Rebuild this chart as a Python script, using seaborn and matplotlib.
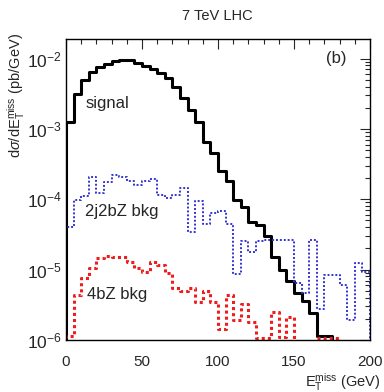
import numpy as np
import pandas as pd
import seaborn as sns
import matplotlib
matplotlib.use("Agg")
import matplotlib.pyplot as plt
from matplotlib.ticker import MultipleLocator, LogLocator, NullFormatter

# 5 GeV bins, 0-200 GeV
bin_edges = np.arange(0, 205, 5)

signal = [1.25e-3, 3.1e-3, 5.0e-3, 6.4e-3, 7.6e-3, 8.4e-3, 9.3e-3, 9.5e-3, 9.5e-3, 8.6e-3,
          7.9e-3, 7.1e-3, 6.3e-3, 5.3e-3, 4.0e-3, 2.74e-3, 1.87e-3, 1.27e-3, 6.6e-4, 4.5e-4,
          2.54e-4, 1.83e-4, 9.9e-5, 7.7e-5, 4.7e-5, 4.3e-5, 3.0e-5, 1.53e-5, 9.9e-6, 6.8e-6,
          4.6e-6, 3.6e-6, 2.4e-6, 1.15e-6, 1.15e-6, 0, 0, 0, 0, 0]

bkg_2j2bz = [4.1e-5, 9.8e-5, 1.12e-4, 2.08e-4, 1.22e-4, 1.75e-4, 2.22e-4, 2.04e-4, 1.83e-4, 1.57e-4,
             1.83e-4, 1.95e-4, 1.16e-4, 1.04e-4, 1.16e-4, 1.44e-4, 3.4e-5, 9.5e-5, 4.47e-5, 6.4e-5,
             6.8e-5, 4.47e-5, 8.7e-6, 2.56e-5, 1.79e-5, 2.56e-5, 2.64e-5, 2.64e-5, 2.64e-5, 2.64e-5,
             6.5e-6, 4.6e-6, 2.6e-5, 2.8e-6, 8.4e-6, 8.4e-6, 6.05e-6, 1.92e-6, 1.23e-5, 9.4e-6]

bkg_4bz = [1.14e-6, 4.36e-6, 7.55e-6, 1.05e-5, 1.45e-5, 1.58e-5, 1.5e-5, 1.53e-5, 1.3e-5, 1.07e-5,
           9.4e-6, 1.3e-5, 1.17e-5, 8.9e-6, 5.4e-6, 4.9e-6, 5.5e-6, 3.5e-6, 4.9e-6, 3.5e-6,
           1.45e-6, 4.36e-6, 1.9e-6, 3.3e-6, 1.8e-6, 1.08e-6, 1.08e-6, 2.53e-6, 1.1e-6, 2.15e-6,
           0, 0, 0, 1.08e-6, 1.08e-6, 1.08e-6, 0, 0, 0, 0]

FLOOR = 1e-9  # empty bins end up below the frame, like ROOT


def step_frame(vals, name):
    v = [x if x > 0 else FLOOR for x in vals]
    xs = [bin_edges[0]] + list(bin_edges[:-1]) + [bin_edges[-1], bin_edges[-1]]
    ys = [FLOOR] + v + [v[-1], FLOOR]
    return pd.DataFrame({'met': xs, 'dsig': ys, 'sample': name})


sns.set_style("white")
plt.rcParams.update({
    'font.family': ['Liberation Sans', 'DejaVu Sans'],
    'mathtext.fontset': 'custom',
    'mathtext.rm': 'Liberation Sans',
    'mathtext.it': 'Liberation Sans:italic',
    'axes.linewidth': 1.0,
    'axes.edgecolor': 'black',
})

fig = plt.figure(figsize=(3.84, 3.92), dpi=100)
ax = fig.add_axes([0.1719, 0.1327, 0.7917, 0.7679])
ax.set_yscale('log')

sns.lineplot(data=step_frame(signal, 'signal'), x='met', y='dsig', estimator=None, sort=False,
             drawstyle='steps-post', color='black', lw=2.2, ax=ax)
sns.lineplot(data=step_frame(bkg_2j2bz, '2j2bZ'), x='met', y='dsig', estimator=None, sort=False,
             drawstyle='steps-post', color='#3434d6', lw=1.4, linestyle=(0, (1, 1)), ax=ax)
sns.lineplot(data=step_frame(bkg_4bz, '4bZ'), x='met', y='dsig', estimator=None, sort=False,
             drawstyle='steps-post', color='#ee1c1c', lw=2.2, linestyle=(0, (1, 1)), ax=ax)

ax.set_xlim(0, 200)
ax.set_ylim(1e-6, 1.9e-2)
ax.set_xlabel('')
ax.set_ylabel('')

ax.xaxis.set_major_locator(MultipleLocator(50))
ax.xaxis.set_minor_locator(MultipleLocator(10))
ax.yaxis.set_major_locator(LogLocator(base=10, numticks=10))
ax.yaxis.set_minor_locator(LogLocator(base=10, subs=np.arange(2, 10), numticks=20))
ax.yaxis.set_minor_formatter(NullFormatter())

ax.tick_params(which='both', direction='in', top=True, right=True, width=0.8)
ax.tick_params(which='major', length=7)
ax.tick_params(which='minor', length=3.5)
ax.tick_params(axis='x', pad=11, labelsize=11)
ax.tick_params(axis='y', pad=3, labelsize=12.5)

ax.text(13, 2.3e-3, 'signal', fontsize=12, ha='left', va='center')
ax.text(12.5, 6.6e-5, '2j2bZ bkg', fontsize=12, ha='left', va='center')
ax.text(13.5, 4.4e-6, '4bZ bkg', fontsize=12, ha='left', va='center')
ax.text(0.888, 0.935, '(b)', transform=ax.transAxes, fontsize=12, ha='center', va='center')

fig.text(0.565, 0.959, '7 TeV LHC', fontsize=10.5, ha='center', va='center')
fig.text(16 / 384, 1 - 33 / 392, r'd$\sigma$/dE$_\mathrm{T}^\mathrm{miss}$ (pb/GeV)',
         rotation=90, fontsize=10.5, ha='center', va='top')
fig.text(381 / 384, 1 - 382 / 392, r'E$_\mathrm{T}^\mathrm{miss}$ (GeV)',
         fontsize=10.5, ha='right', va='center')

fig.savefig('out.png', dpi=100)
